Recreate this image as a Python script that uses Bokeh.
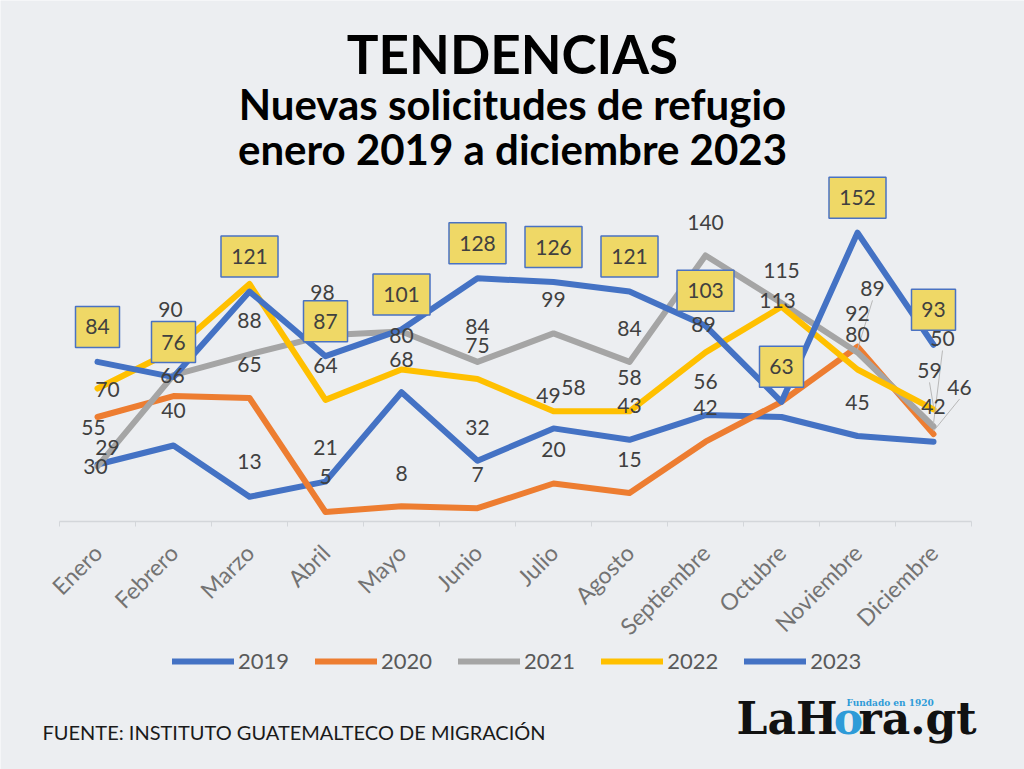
from math import pi
from bokeh.plotting import figure
from bokeh.models import (Range1d, FixedTicker, ColumnDataSource, Label, Legend, LegendItem,
                          LinearAxis)
from bokeh.core.properties import value
from bokeh.embed import file_html
from bokeh.resources import INLINE

# ---------------- data ----------------
months = ["Enero", "Febrero", "Marzo", "Abril", "Mayo", "Junio", "Julio",
          "Agosto", "Septiembre", "Octubre", "Noviembre", "Diciembre"]
series_names = ["2019", "2020", "2021", "2022", "2023"]
y2019 = [30, 40, 13, 21, 68, 32, 49, 43, 56, 55, 45, 42]
y2020 = [55, 66, 65, 5, 8, 7, 20, 15, 42, 63, 92, 46]
y2021 = [29, 77, 88, 98, 100, 84, 99, 84, 140, 115, 89, 50]
y2022 = [70, 90, 125, 64, 80, 75, 58, 58, 89, 113, 80, 59]
y2023 = [84, 76, 121, 87, 101, 128, 126, 121, 103, 63, 152, 93]
values = {"2019": y2019, "2020": y2020, "2021": y2021, "2022": y2022, "2023": y2023}
# data labels hidden behind other labels in the original
hidden = {"2019": [9], "2020": [9], "2021": [1, 4], "2022": [2], "2023": []}

title1 = "TENDENCIAS"
title2 = "Nuevas solicitudes de refugio"
title3 = "enero 2019 a diciembre 2023"
source_text = "FUENTE: INSTITUTO GUATEMALTECO DE MIGRACIÓN"

# ---------------- layout / style ----------------
colors = {"2019": "#4472c4", "2020": "#ed7d31", "2021": "#a5a5a5",
          "2022": "#ffc000", "2023": "#4472c4"}
BG = "#eceef1"
W, H = 1024, 769
ZERO_Y = 521           # page y of value 0
PX_Y = 1.9             # pixels per unit
X0 = 97                # page x of first category
PX_X = 76              # pixels per category


def cx(px):  # page x -> data x
    return (px - X0) / PX_X


def cy(py):  # page y -> data y
    return (ZERO_Y - py) / PX_Y


# label offsets in pixels (dx right, dy up) relative to each point
label_off = {
    "2019": [(-2, -2), (0, 35), (0, 35), (0, 34), (0, 33), (0, 33), (-5, 33), (0, 34),
             (0, 34), (0, 34), (0, 34), (0, 35)],
    "2020": [(-4, -10), (-1, 21), (0, 34), (0, 36), (0, 33), (0, 34), (0, 34), (0, 34),
             (0, 34), (0, 34), (0, 33), (26, 47)],
    "2021": [(10, 19), (0, 34), (0, 34), (-3, 43), (0, 34), (0, 35), (0, 34), (0, 33),
             (0, 33), (0, 33), (15, 64), (9, 88)],
    "2022": [(10, -1), (-3, 41), (0, 34), (0, 34), (0, 34), (0, 34), (20, 24), (0, 34),
             (-2, 28), (-4, 6), (0, 35), (-4, 39)],
    "2023": [(0, 35)] * 12,
}
leaders = [("2021", 10), ("2021", 11), ("2020", 11), ("2022", 11)]

p = figure(width=W, height=H, output_backend="svg", toolbar_location=None,
           x_range=Range1d(cx(0), cx(W)), y_range=Range1d(cy(H), cy(0)),
           min_border=0, x_axis_location=None, y_axis_location=None)
p.background_fill_color = BG
p.border_fill_color = BG
p.outline_line_color = None
p.xgrid.visible = False
p.ygrid.visible = False

n = len(months)
xs = list(range(n))

ax = LinearAxis(fixed_location=0,
                ticker=FixedTicker(ticks=xs),
                major_label_overrides={i: m for i, m in enumerate(months)},
                major_label_orientation=pi / 4,
                axis_line_color=None, major_tick_line_color=None,
                minor_tick_line_color=None, major_tick_out=0, major_tick_in=0,
                major_label_text_font="Lato", major_label_text_font_size="23px",
                major_label_text_color="#737373", major_label_standoff=27)
p.add_layout(ax, "below")

# baseline and boundary ticks
p.segment(x0=[-0.5], y0=[0], x1=[n - 0.5], y1=[0], line_color="#d3d6da", line_width=1.5)
p.segment(x0=[i - 0.5 for i in range(n + 1)], y0=[0] * (n + 1),
          x1=[i - 0.5 for i in range(n + 1)], y1=[-5 / PX_Y] * (n + 1),
          line_color="#d3d6da", line_width=1)

renderers = {}
for s in series_names:
    renderers[s] = p.line(xs, values[s], line_color=colors[s], line_width=6,
                          line_join="round", line_cap="round")

# leader lines
for s, i in leaders:
    dx, dy = label_off[s][i]
    v = values[s][i]
    p.segment(x0=[i + dx / PX_X], y0=[v + (dy - 12) / PX_Y], x1=[i], y1=[v + 3 / PX_Y],
              line_color="#b8b8b8", line_width=1)

# plain data labels
for s in series_names[:4]:
    rows = [i for i in range(n) if i not in hidden[s]]
    src = ColumnDataSource(dict(
        x=rows, y=[values[s][i] for i in rows],
        text=[str(values[s][i]) for i in rows],
        xo=[label_off[s][i][0] for i in rows],
        yo=[-label_off[s][i][1] for i in rows]))
    p.text(x="x", y="y", text="text", x_offset="xo", y_offset="yo", source=src,
           text_align="center", text_baseline="middle", text_font=value("Lato"),
           text_font_size="21px", text_color="#404040")

# boxed 2023 labels
s = "2023"
bsrc = ColumnDataSource(dict(
    x=[i + label_off[s][i][0] / PX_X for i in range(n)],
    y=[values[s][i] + label_off[s][i][1] / PX_Y for i in range(n)],
    w=[18 + 13 * len(str(v)) for v in values[s]],
    text=[str(v) for v in values[s]]))
p.rect(x="x", y="y", width="w", height=41, width_units="screen", height_units="screen",
       source=bsrc, fill_color="#efd866", line_color="#4a72c2", line_width=1.5)
p.text(x="x", y="y", text="text", source=bsrc, text_align="center", text_baseline="middle",
       text_font=value("Lato"), text_font_size="21px", text_color="#404040")

# legend
legend = Legend(items=[LegendItem(label=s, renderers=[renderers[s]]) for s in series_names],
                orientation="horizontal", location=(172, H - 674),
                glyph_width=62, glyph_height=24, label_height=24, label_standoff=4,
                spacing=26, padding=0, margin=0, background_fill_alpha=0,
                border_line_color=None, label_text_font="Lato",
                label_text_font_size="22px", label_text_color="#595959")
p.add_layout(legend)


def add_text(px, py, text, align="left", font="Lato", style="normal", size="20px",
             color="#000000"):
    p.add_layout(Label(x=cx(px), y=cy(py), text=text, text_align=align,
                       text_baseline="bottom", text_font=font, text_font_style=style,
                       text_font_size=size, text_color=color))


# titles
add_text(512, 84, title1, "center", "Lato", "bold", "53px")
add_text(512, 128, title2, "center", "Lato", "bold", "42px")
add_text(512, 173, title3, "center", "Lato", "bold", "42px")

# source and logo
add_text(42, 743, source_text, "left", "Lato", "normal", "20px", "#1a1a1a")
add_text(837, 743, "LaH", "right", "DejaVu Serif", "bold", "44px", "#111111")
add_text(848, 743, "o", "center", "DejaVu Serif", "bold", "44px", "#2e9bd8")
add_text(858, 743, "ra.gt", "left", "DejaVu Serif", "bold", "44px", "#111111")
add_text(846, 707, "Fundado en 1920", "left", "DejaVu Serif", "bold", "9px", "#2e9bd8")

open("out.html", "w").write(file_html(p, INLINE))
